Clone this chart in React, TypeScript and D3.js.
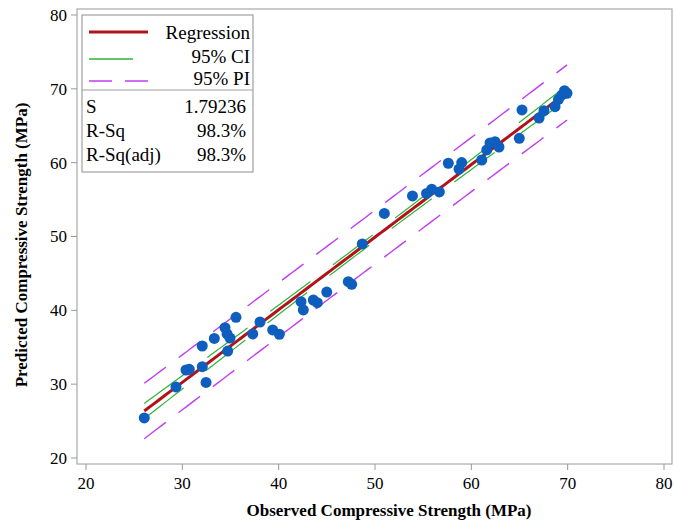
import React from "react";
import * as d3 from "d3";

const observed = [26.05, 29.34, 30.38, 30.72, 32.07, 32.46, 32.07, 33.32, 34.43, 34.64, 34.95, 34.71, 35.57, 37.31, 38.06, 39.38, 40.07, 42.32, 42.56, 43.6, 44.01, 44.99, 47.23, 47.58, 48.68, 50.97, 53.89, 55.35, 55.89, 56.68, 57.61, 58.72, 59.0, 61.08, 61.6, 61.94, 62.46, 62.87, 64.98, 65.26, 67.03, 67.54, 68.69, 69.05, 69.41, 69.67, 69.93];
const predicted = [25.42, 29.62, 31.92, 32.01, 32.37, 30.23, 35.17, 36.19, 37.65, 36.8, 36.25, 34.49, 39.06, 36.8, 38.42, 37.34, 36.76, 41.17, 40.05, 41.4, 41.04, 42.48, 43.88, 43.53, 48.99, 53.12, 55.49, 55.83, 56.4, 56.03, 59.92, 59.14, 60.02, 60.36, 61.72, 62.67, 62.84, 62.12, 63.3, 67.14, 66.05, 67.04, 67.58, 68.58, 69.17, 69.75, 69.4];

const xTicks = [20, 30, 40, 50, 60, 70, 80];
const yTicks = [20, 30, 40, 50, 60, 70, 80];
const legendItems = ["Regression", "95% CI", "95% PI"];
const statLabels = ["S", "R-Sq", "R-Sq(adj)"];
const statValues = ["1.79236", "98.3%", "98.3%"];
const sValue = 1.79236;
const tCrit = 2.014;

export default function App() {
  const W = 674, H = 525;
  const frame = { l: 77, r: 672, t: 9, b: 464 };
  const x = d3.scaleLinear().domain([20, 80]).range([86, 664]);
  const y = d3.scaleLinear().domain([20, 80]).range([458, 15]);

  const n = observed.length;
  const xbar = d3.mean(observed) as number;
  const ybar = d3.mean(predicted) as number;
  const sxx = d3.sum(observed, (v) => (v - xbar) ** 2);
  const sxy = d3.sum(observed.map((v, i) => (v - xbar) * (predicted[i] - ybar)));
  const slope = sxy / sxx;
  const intercept = ybar - slope * xbar;
  const [xmin, xmax] = d3.extent(observed) as [number, number];
  const grid = d3.range(0, 101).map((i) => xmin + ((xmax - xmin) * i) / 100);
  const fit = (v: number) => intercept + slope * v;
  const ci = (v: number) => tCrit * sValue * Math.sqrt(1 / n + (v - xbar) ** 2 / sxx);
  const pi = (v: number) => tCrit * sValue * Math.sqrt(1 + 1 / n + (v - xbar) ** 2 / sxx);
  const line = d3.line<[number, number]>().x((d) => x(d[0])).y((d) => y(d[1]));
  const path = (f: (v: number) => number) => line(grid.map((v) => [v, f(v)]) as [number, number][]) || "";

  const red = "#b0141a";
  const green = "#2fb33a";
  const purple = "#c13cf2";
  const blue = "#0e5fbd";
  const font = "'Liberation Serif', 'Times New Roman', serif";

  return (
    <svg width={W} height={H} style={{ position: "absolute", left: 0, top: 0, background: "#fff" }} fontFamily={font}>
      <rect x={0} y={0} width={W} height={H} fill="#fff" />
      <rect x={frame.l} y={frame.t} width={frame.r - frame.l} height={frame.b - frame.t} fill="none" stroke="#a8a8a8" strokeWidth={1.2} />
      {yTicks.map((t) => (
        <g key={"y" + t}>
          <line x1={frame.l - 6} x2={frame.l} y1={y(t)} y2={y(t)} stroke="#999" />
          <text x={frame.l - 10} y={y(t)} dy="0.35em" textAnchor="end" fontSize={17}>{t}</text>
        </g>
      ))}
      {xTicks.map((t) => (
        <g key={"x" + t}>
          <line x1={x(t)} x2={x(t)} y1={frame.b} y2={frame.b + 6} stroke="#999" />
          <text x={x(t)} y={frame.b + 25} textAnchor="middle" fontSize={17}>{t}</text>
        </g>
      ))}
      <text x={389} y={516} textAnchor="middle" fontSize={17} fontWeight="bold">Observed Compressive Strength (MPa)</text>
      <text transform={`translate(27,245) rotate(-90)`} textAnchor="middle" fontSize={17} fontWeight="bold">Predicted Compressive Strength (MPa)</text>

      <path d={path((v) => fit(v) + pi(v))} fill="none" stroke={purple} strokeWidth={1.4} strokeDasharray="27,16" />
      <path d={path((v) => fit(v) - pi(v))} fill="none" stroke={purple} strokeWidth={1.4} strokeDasharray="27,16" />
      <path d={path((v) => fit(v) + ci(v))} fill="none" stroke={green} strokeWidth={1.2} strokeDasharray="50,28" />
      <path d={path((v) => fit(v) - ci(v))} fill="none" stroke={green} strokeWidth={1.2} strokeDasharray="50,28" />
      <path d={path(fit)} fill="none" stroke={red} strokeWidth={3} />

      {observed.map((v, i) => (
        <circle key={i} cx={x(v)} cy={y(predicted[i])} r={5.5} fill={blue} />
      ))}

      <rect x={82} y={15} width={171} height={157} fill="#fff" stroke="#a0a0a0" strokeWidth={1.2} />
      <line x1={82} x2={253} y1={90} y2={90} stroke="#a0a0a0" strokeWidth={1.2} />
      <line x1={89} x2={148} y1={32} y2={32} stroke={red} strokeWidth={3} />
      <line x1={89} x2={133} y1={59} y2={59} stroke={green} strokeWidth={1.4} />
      <line x1={89} x2={148} y1={81} y2={81} stroke={purple} strokeWidth={1.4} strokeDasharray="23,13" />
      {legendItems.map((s, i) => (
        <text key={s} x={250} y={[39, 63, 85][i]} textAnchor="end" fontSize={19}>{s}</text>
      ))}
      {statLabels.map((s, i) => (
        <g key={s}>
          <text x={86} y={113 + i * 24} fontSize={19}>{s}</text>
          <text x={246} y={113 + i * 24} textAnchor="end" fontSize={19}>{statValues[i]}</text>
        </g>
      ))}
    </svg>
  );
}
